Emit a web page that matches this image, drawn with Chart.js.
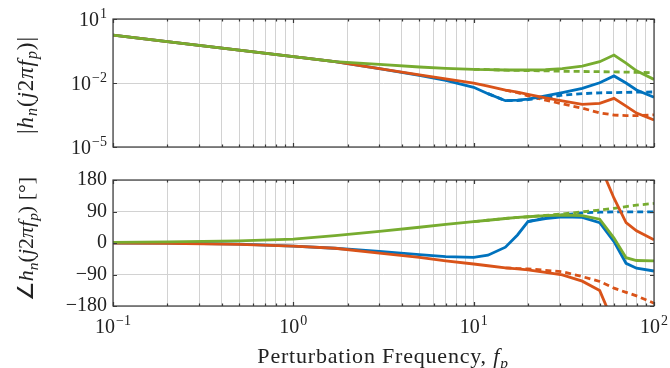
<!DOCTYPE html>
<html>
<head>
<meta charset="utf-8">
<script src="https://cdn.jsdelivr.net/npm/chart.js@4.4.1/dist/chart.umd.min.js"></script>
<style>
  body { margin: 0; background: #fff; }
  #wrap { position: relative; width: 670px; height: 368px; overflow: hidden; font-family: 'Liberation Serif', serif; color: #222; }
  #magChart { position: absolute; left: 0; top: 0; }
  #phaseChart { position: absolute; left: 0; top: 160px; }
  .lab { position: absolute; white-space: nowrap; font-size: 22px; line-height: 1; }
  .lab sub { font-size: 0.7em; vertical-align: -0.3em; line-height: 0; }
  .rot { transform: translate(-50%, -50%) rotate(-90deg); }
</style>
</head>
<body>
<div id="wrap">
  <canvas id="magChart" width="670" height="160"></canvas>
  <canvas id="phaseChart" width="670" height="208"></canvas>
  <div class="lab rot" style="left:25px; top:85px; font-size:23px; letter-spacing:0.9px;">|<i>h</i><sub><i>n</i></sub>(<i>j</i>2<i>πf</i><sub><i>p</i></sub>)|</div>
  <div class="lab rot" style="left:26px; top:239px; font-size:22px;">∠<i>h</i><sub><i>n</i></sub>(<i>j</i>2<i>πf</i><sub><i>p</i></sub>) [°]</div>
  <div class="lab" style="left:383px; top:356px; transform: translate(-50%, -50%); letter-spacing:0.8px;">Perturbation Frequency, <i>f</i><sub><i>p</i></sub></div>
</div>
<script>
// ---- data ----
const freq = [0.1, 0.2, 0.5, 1, 1.7, 3, 5, 7, 10, 12, 15, 17.5, 20, 25, 31, 40, 50, 60, 70, 80, 100];

// magnitude |h_n|
const magBlue  = [1.74, 0.871, 0.347, 0.174, 0.1, 0.0468, 0.0229, 0.0132, 0.00631, 0.00316, 0.00148, 0.00158, 0.00174, 0.00251, 0.00355, 0.00562, 0.0102, 0.0214, 0.01, 0.00468, 0.00214];
const magRed   = [1.74, 0.871, 0.347, 0.174, 0.1, 0.0468, 0.024, 0.0155, 0.00977, 0.00708, 0.00468, 0.00372, 0.00295, 0.002, 0.00145, 0.001, 0.00112, 0.00191, 0.00083, 0.00039, 0.000186];
const magGreen = [1.74, 0.871, 0.347, 0.174, 0.1, 0.0741, 0.0562, 0.049, 0.0437, 0.0427, 0.0407, 0.0407, 0.0407, 0.0417, 0.0468, 0.0617, 0.1, 0.204, 0.0851, 0.0372, 0.0148];
const magBlueDash  = [null, null, null, null, null, null, null, null, null, 0.00316, 0.00148, 0.00151, 0.00166, 0.00209, 0.00269, 0.00316, 0.00347, 0.00355, 0.00363, 0.00372, 0.0038];
const magRedDash   = [null, null, null, null, null, null, null, null, null, null, 0.00468, 0.00355, 0.00251, 0.00158, 0.00105, 0.00066, 0.000398, 0.000316, 0.000295, 0.000295, 0.000324];
const magGreenDash = [null, null, null, null, null, null, null, null, 0.0437, 0.0427, 0.0398, 0.0389, 0.038, 0.0372, 0.0355, 0.0347, 0.0339, 0.0331, 0.0324, 0.0316, 0.0302];

// phase, degrees
const phaseBlue  = [0, 0, -3, -9, -15, -24, -33, -39, -41, -35, -12, 23, 61, 70, 75, 73, 58, 4, -58, -72, -80];
const phaseRed   = [0, -1, -4, -9, -15, -29, -41, -51, -60, -65, -71, -74, -77, -84, -91, -109, -136, -232, null, null, null];
const phaseRedWrapped = [null, null, null, null, null, null, null, null, null, null, null, null, null, null, null, null, 224, 128, 58, 35, 9];
const phaseGreen = [2, 3, 6, 11, 21, 33, 45, 53, 61, 65, 70, 73, 75, 78, 80, 78, 68, 14, -42, -50, -51];
const phaseBlueDash  = [null, null, null, null, null, null, null, null, null, null, null, null, 61, 72, 80, 86, 88, 89, 89, 89, 89];
const phaseRedDash   = [null, null, null, null, null, null, null, null, null, null, -71, -73, -74, -78, -82, -96, -110, -129, -141, -151, -172];
const phaseGreenDash = [null, null, null, null, null, null, null, null, 61, 65, 70, 73, 75, 79, 83, 89, 94, 99, 104, 108, 113];

// ticks
const xGrid = [0.1, 0.2, 0.3, 0.4, 0.5, 0.6, 0.7, 0.8, 0.9, 1, 2, 3, 4, 5, 6, 7, 8, 9, 10, 20, 30, 40, 50, 60, 70, 80, 90, 100];
const xDecades = [0.1, 1, 10, 100];
const xDecadeExps = ['−1', '0', '1', '2'];
const magTicks = [1e-5, 1e-2, 1e1];
const magTickExps = ['−5', '−2', '1'];
const phaseTicks = [-180, -90, 0, 90, 180];
const phaseTickLabels = ['−180', '−90', '0', '90', '180'];

const BLUE = '#0072BD', RED = '#D95319', GREEN = '#77AC30';
const FONT = "'Liberation Serif', serif";

function series(values, color, dashed) {
  return {
    data: freq.map((f, i) => ({ x: f, y: values[i] })),
    borderColor: color,
    borderWidth: 2.8,
    borderDash: dashed ? [6, 4] : [],
    pointRadius: 0,
    tension: 0,
    spanGaps: false,
  };
}

// "10" with a raised exponent; align is 'center' or 'right'
function drawPow(ctx, exp, x, baseline, align) {
  ctx.font = `20px ${FONT}`;
  const wb = ctx.measureText('10').width;
  ctx.font = `14px ${FONT}`;
  const we = ctx.measureText(exp).width;
  const left = align === 'right' ? x - wb - we - 1 : x - (wb + we + 1) / 2;
  ctx.font = `20px ${FONT}`;
  ctx.fillText('10', left, baseline);
  ctx.font = `14px ${FONT}`;
  ctx.fillText(exp, left + wb + 1, baseline - 8);
}

// box around plot, inward ticks and power-of-ten labels like pgfplots
const framePlugin = {
  id: 'frame',
  afterDraw(chart, args, opts) {
    const { ctx, chartArea: a, scales } = chart;
    ctx.save();
    ctx.strokeStyle = '#3a3a3a';
    ctx.lineWidth = 1.2;
    ctx.beginPath();
    xGrid.forEach((v) => {
      const px = Math.round(scales.x.getPixelForValue(v)) + 0.5;
      const len = xDecades.includes(v) ? 4 : 2.5;
      ctx.moveTo(px, a.top); ctx.lineTo(px, a.top + len);
      ctx.moveTo(px, a.bottom); ctx.lineTo(px, a.bottom - len);
    });
    scales.y.ticks.forEach((t) => {
      const py = Math.round(scales.y.getPixelForValue(t.value)) + 0.5;
      ctx.moveTo(a.left, py); ctx.lineTo(a.left + 4, py);
      ctx.moveTo(a.right, py); ctx.lineTo(a.right - 4, py);
    });
    ctx.stroke();
    ctx.strokeRect(a.left, a.top, a.right - a.left, a.bottom - a.top);

    ctx.fillStyle = '#222';
    ctx.textAlign = 'left';
    ctx.textBaseline = 'alphabetic';
    if (opts.xLabels) {
      xDecades.forEach((v, i) => {
        drawPow(ctx, xDecadeExps[i], scales.x.getPixelForValue(v), a.bottom + 27, 'center');
      });
    }
    if (opts.yLabels) {
      magTicks.forEach((v, i) => {
        drawPow(ctx, magTickExps[i], a.left - 6, scales.y.getPixelForValue(v) + 7, 'right');
      });
    }
    ctx.restore();
  },
};

function xScale(labelRoom) {
  return {
    type: 'logarithmic',
    min: 0.1,
    max: 100,
    afterBuildTicks: (s) => { s.ticks = xGrid.map((v) => ({ value: v })); },
    afterFit: (s) => { s.height = labelRoom; },
    grid: { color: '#d2d2d2', lineWidth: 1, drawTicks: false },
    border: { display: false },
    ticks: { display: false, autoSkip: false },
  };
}

new Chart(document.getElementById('magChart'), {
  type: 'line',
  data: {
    datasets: [
      series(magGreen, GREEN), series(magRed, RED), series(magBlue, BLUE),
      series(magGreenDash, GREEN, true), series(magRedDash, RED, true), series(magBlueDash, BLUE, true),
    ],
  },
  options: {
    responsive: false,
    animation: false,
    layout: { padding: { left: 113, right: 16, top: 19, bottom: 13 } },
    plugins: { legend: { display: false }, tooltip: { enabled: false }, frame: { yLabels: true } },
    scales: {
      x: xScale(0),
      y: {
        type: 'logarithmic',
        min: 1e-5,
        max: 10,
        afterBuildTicks: (s) => { s.ticks = magTicks.map((v) => ({ value: v })); },
        afterFit: (s) => { s.width = 0; },
        grid: { color: '#d2d2d2', drawTicks: false },
        border: { display: false },
        ticks: { display: false },
      },
    },
  },
  plugins: [framePlugin],
});

new Chart(document.getElementById('phaseChart'), {
  type: 'line',
  data: {
    datasets: [
      series(phaseGreen, GREEN), series(phaseRed, RED), series(phaseRedWrapped, RED), series(phaseBlue, BLUE),
      series(phaseGreenDash, GREEN, true), series(phaseRedDash, RED, true), series(phaseBlueDash, BLUE, true),
    ],
  },
  options: {
    responsive: false,
    animation: false,
    layout: { padding: { left: 0, right: 16, top: 20, bottom: 32 } },
    plugins: { legend: { display: false }, tooltip: { enabled: false }, frame: { xLabels: true } },
    scales: {
      x: xScale(30),
      y: {
        min: -180,
        max: 180,
        afterBuildTicks: (s) => { s.ticks = phaseTicks.map((v) => ({ value: v })); },
        afterFit: (s) => { s.width = 113; },
        grid: { color: '#d2d2d2', drawTicks: false },
        border: { display: false },
        ticks: {
          padding: 6,
          color: '#222',
          font: { family: FONT, size: 20 },
          callback: (v) => phaseTickLabels[phaseTicks.indexOf(v)] ?? '',
        },
      },
    },
  },
  plugins: [framePlugin],
});
</script>
</body>
</html>
